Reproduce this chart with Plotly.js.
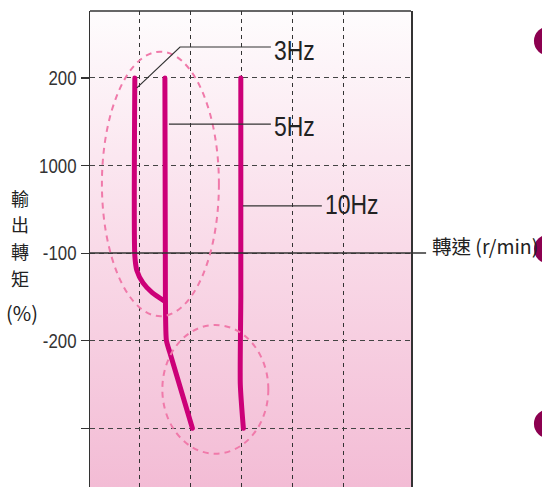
<!DOCTYPE html>
<html>
<head>
<meta charset="utf-8">
<script src="https://cdn.plot.ly/plotly-3.0.1.min.js"></script>
<style>
html,body{margin:0;padding:0;background:#fff;overflow:hidden;}
#chart{width:542px;height:487px;}
.scatterlayer path.js-line{stroke-linecap:round;stroke-linejoin:round;}
</style>
</head>
<body>
<div id="chart"></div>
<script>
// ---- data ----
var seriesNames = ["3Hz", "5Hz", "10Hz"];
var x3Hz = [0.91, 0.91, 0.95, 1.07, 1.25, 1.50];
var y3Hz = [4.0, 1.97, 1.80, 1.66, 1.55, 1.45];
var x5Hz = [1.50, 1.51, 1.53, 1.60, 2.04];
var y5Hz = [4.0, 1.5, 1.0, 0.86, 0.0];
var x10Hz = [2.99, 2.99, 2.98, 3.04];
var y10Hz = [4.0, 1.5, 0.5, 0.0];
var yTickVals = [4, 3, 2, 1, 0];
var yTickText = ["200", "1000", "-100", "-200", ""];
var xGridVals = [1, 2, 3, 4, 5];
var yAxisChars = ["輸", "出", "轉", "矩"];
var yAxisUnit = "(%)";
var xAxisLabel = "轉速 (r/min)";

var lineColor = "#cc0078";
var numFont = "'Liberation Sans', Arial, sans-serif";
var cjkFont = "'Noto Sans CJK TC', 'Noto Sans', sans-serif";

var traces = [
  {x: x3Hz, y: y3Hz, name: seriesNames[0]},
  {x: x5Hz, y: y5Hz, name: seriesNames[1]},
  {x: x10Hz, y: y10Hz, name: seriesNames[2]}
].map(function (t) {
  t.type = "scatter"; t.mode = "lines"; t.showlegend = false;
  t.line = {color: lineColor, width: 5, shape: "spline", smoothing: 0.6};
  t.hoverinfo = "skip";
  return t;
});

var gradSvg = '<svg xmlns="http://www.w3.org/2000/svg" width="10" height="100" preserveAspectRatio="none">' +
  '<defs><linearGradient id="g" x1="0" y1="0" x2="0" y2="1">' +
  '<stop offset="0" stop-color="#fefcfd"/><stop offset="0.5" stop-color="#f9dae8"/>' +
  '<stop offset="1" stop-color="#f3bcd5"/></linearGradient></defs>' +
  '<rect width="10" height="100" fill="url(#g)"/></svg>';

var leader = {color: "#333", width: 1.2};
var ellipseLine = {color: "#f07aaa", width: 2, dash: "6px,5px"};

var shapes = [
  {type: "line", xref: "paper", yref: "paper", x0: 0, x1: 1, y0: 1, y1: 1, line: {color: "#333", width: 1.5}, layer: "above"},
  {type: "line", xref: "paper", yref: "y", x0: 0, x1: 1.047, y0: 2, y1: 2, line: {color: "#333", width: 1.5}, layer: "above"},
  {type: "circle", xref: "x", yref: "y", x0: 0.264, x1: 2.56, y0: 1.28, y1: 4.30, line: ellipseLine, layer: "above"},
  {type: "circle", xref: "x", yref: "y", x0: 1.45, x1: 3.53, y0: -0.29, y1: 1.18, line: ellipseLine, layer: "above"},
  {type: "path", xref: "x", yref: "y", path: "M0.95,3.886 L1.797,4.353 L3.58,4.353", line: leader, layer: "above"},
  {type: "line", xref: "x", yref: "y", x0: 1.579, x1: 3.58, y0: 3.473, y1: 3.473, line: leader, layer: "above"},
  {type: "line", xref: "x", yref: "y", x0: 3.03, x1: 4.58, y0: 2.54, y1: 2.54, line: leader, layer: "above"}
];
[0.937, 0.50, 0.133].forEach(function (yc) {
  shapes.push({type: "circle", xref: "paper", yref: "paper",
    x0: 1.383, x1: 1.478, y0: yc - 0.031, y1: yc + 0.031,
    fillcolor: "#8c0050", line: {width: 0}, layer: "above"});
});

var annotations = [
  {x: 3.6, y: 4.31, text: seriesNames[0]},
  {x: 3.6, y: 3.44, text: seriesNames[1]},
  {x: 4.6, y: 2.55, text: seriesNames[2]}
].map(function (a) {
  a.xref = "x"; a.yref = "y"; a.xanchor = "left"; a.yanchor = "middle"; a.align = "left";
  a.showarrow = false; a.font = {family: numFont, size: 27, color: "#222"};
  return a;
});
// vertical y-axis title, one character per annotation
yAxisChars.forEach(function (c, i) {
  var py = 198 + i * 26.5;
  annotations.push({xref: "paper", yref: "paper", x: (20 - 90) / 321, y: 1 - (py - 11) / 476,
    text: c, showarrow: false, xanchor: "center", yanchor: "middle",
    font: {family: cjkFont, size: 18, color: "#222"}});
});
annotations.push({xref: "paper", yref: "paper", x: (22 - 90) / 321, y: 1 - (312 - 11) / 476,
  text: yAxisUnit, showarrow: false, xanchor: "center", yanchor: "middle",
  font: {family: cjkFont, size: 20, color: "#222"}});
annotations.push({xref: "paper", yref: "paper", x: (430 - 90) / 321, y: 1 - (245 - 11) / 476,
  text: xAxisLabel, showarrow: false, xanchor: "left", yanchor: "middle", align: "left",
  font: {family: cjkFont, size: 19.5, color: "#222"}});

var layout = {
  width: 542, height: 487,
  margin: {l: 90, r: 131, t: 11, b: 0, pad: 0},
  paper_bgcolor: "#ffffff",
  plot_bgcolor: "rgba(0,0,0,0)",
  showlegend: false,
  xaxis: {
    range: [0.03, 6.33], tickvals: xGridVals, showticklabels: false, ticks: "",
    showgrid: true, gridcolor: "#333", gridwidth: 1, griddash: "4px,4px",
    zeroline: false, showline: false, fixedrange: true
  },
  yaxis: {
    range: [-0.67, 4.764], tickvals: yTickVals, ticktext: yTickText,
    ticks: "outside", ticklen: 8, tickcolor: "#333", tickwidth: 1.2,
    tickfont: {family: numFont, size: 20, color: "#333"},
    showgrid: true, gridcolor: "#444", gridwidth: 1, griddash: "5px,4px",
    zeroline: false, showline: true, mirror: true, linecolor: "#333", linewidth: 1.5,
    fixedrange: true
  },
  images: [{
    source: "data:image/svg+xml;charset=utf-8," + encodeURIComponent(gradSvg),
    xref: "paper", yref: "paper", x: 0, y: 1, sizex: 1, sizey: 1,
    sizing: "stretch", xanchor: "left", yanchor: "top", layer: "below"
  }],
  shapes: shapes,
  annotations: annotations
};

// condense numeric labels horizontally (reference uses a narrow face)
function condense(el, ratio) {
  try {
    var len = el.getComputedTextLength();
    if (len > 0) {
      el.setAttribute("textLength", (len * ratio).toFixed(2));
      el.setAttribute("lengthAdjust", "spacingAndGlyphs");
    }
  } catch (e) {}
}

Plotly.newPlot("chart", traces, layout, {displayModeBar: false, staticPlot: true}).then(function (gd) {
  gd.querySelectorAll(".ytick text").forEach(function (t) { condense(t, 0.84); });
  gd.querySelectorAll(".annotation-text").forEach(function (t) {
    if (/Hz$/.test(t.textContent)) condense(t, 0.85);
  });
});
</script>
</body>
</html>
